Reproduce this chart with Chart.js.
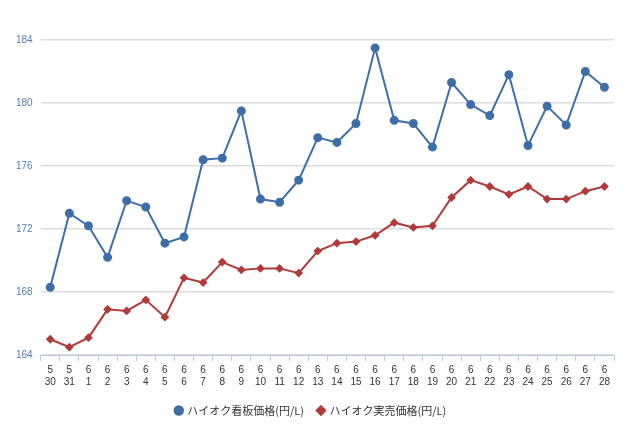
<!DOCTYPE html>
<html><head><meta charset="utf-8">
<script src="https://cdn.jsdelivr.net/npm/chart.js@4"></script>
<style>body{margin:0;background:#fff}#w{width:640px;height:434px}</style>
</head><body><div id="w"><canvas id="c"></canvas></div>
<script>
const months=["5","5","6","6","6","6","6","6","6","6","6","6","6","6","6","6","6","6","6","6","6","6","6","6","6","6","6","6","6","6"];
const days=["30","31","1","2","3","4","5","6","7","8","9","10","11","12","13","14","15","16","17","18","19","20","21","22","23","24","25","26","27","28"];
const kanban=[168.3,173.0,172.2,170.2,173.8,173.4,171.1,171.5,176.4,176.5,179.5,173.9,173.7,175.1,177.8,177.5,178.7,183.5,178.9,178.7,177.2,181.3,179.9,179.2,181.8,177.3,179.8,178.6,182.0,181.0];
const jitsubai=[165.0,164.5,165.1,166.9,166.8,167.5,166.4,168.9,168.6,169.9,169.4,169.5,169.5,169.2,170.6,171.1,171.2,171.6,172.4,172.1,172.2,174.0,175.1,174.7,174.2,174.7,173.9,173.9,174.4,174.7];
const labels=months.map((m,i)=>[m,days[i]]);
new Chart(document.getElementById('c'),{type:'line',
data:{labels,datasets:[
{label:'ハイオク看板価格(円/L)',data:kanban,borderColor:'#3e6ea8',backgroundColor:'#3e6ea8',pointStyle:'circle',pointRadius:3.5,borderWidth:2,tension:0},
{label:'ハイオク実売価格(円/L)',data:jitsubai,borderColor:'#b03a3a',backgroundColor:'#b03a3a',pointStyle:'rectRot',pointRadius:3,borderWidth:2,tension:0}]},
options:{responsive:true,maintainAspectRatio:false,animation:false,
layout:{padding:{left:8,right:26,top:40,bottom:8}},
plugins:{tooltip:{enabled:false},legend:{position:'bottom',labels:{usePointStyle:true,boxWidth:6,boxHeight:6,padding:14,color:'#333',font:{family:'Noto Sans CJK JP',size:11}}}},
scales:{
x:{offset:true,grid:{offset:true,drawOnChartArea:false,color:'#b8cce4',tickLength:6},border:{color:'#b8cce4'},ticks:{color:'#333',maxRotation:0,autoSkip:false,font:{size:10,family:'Liberation Sans'}}},
y:{min:164,max:184,ticks:{stepSize:4,padding:8,color:'#5a7ab0',font:{size:10,family:'Liberation Sans'}},grid:{color:'#dcdcdc',drawTicks:false,lineWidth:1.5},border:{display:false}}}}});
</script></body></html>
